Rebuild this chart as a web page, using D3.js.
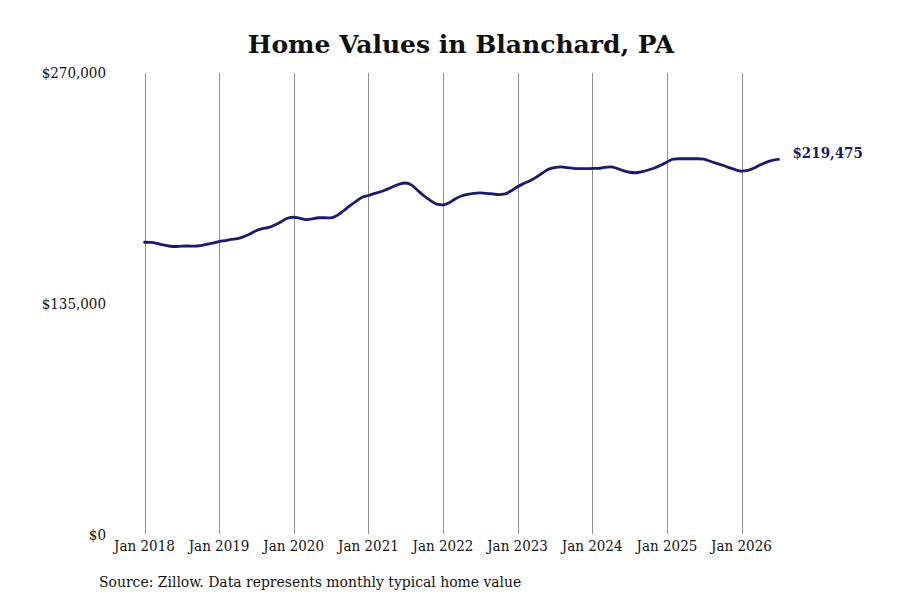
<!DOCTYPE html>
<html>
<head>
<meta charset="utf-8">
<script src="https://cdn.jsdelivr.net/npm/d3@7"></script>
<style>
  html, body { margin: 0; padding: 0; background: #fff; }
  svg text { font-family: "DejaVu Serif Condensed", "DejaVu Serif", serif; font-stretch: condensed; }
</style>
</head>
<body>
<svg id="chart" width="900" height="600"></svg>
<script>
// ---- data ----
const startMonth = "2018-01";
const values = [
  171100, 171000, 170500, 169500, 168900, 168600, 168800, 168900, 168800, 169100, 169900, 170600,
  171500, 172100, 172700, 173200, 174300, 175900, 177800, 179000, 179800, 181200, 183100, 185100,
  185700, 185100, 184300, 184800, 185400, 185400, 185300, 186800, 189500, 192300, 195000, 197400,
  198400, 199700, 200600, 202000, 203500, 205100, 205700, 204500, 201200, 198100, 195400, 193300,
  192900, 194200, 196400, 198100, 199100, 199700, 199900, 199700, 199300, 198900, 199300, 201200,
  203500, 205500, 206900, 209000, 211400, 213700, 214700, 215100, 214700, 214300, 214100, 214100,
  214200, 214300, 214900, 215100, 214300, 212900, 212000, 211700, 212300, 213300, 214500, 216100,
  218000, 219600, 219900, 219900, 219900, 219900, 219600, 218400, 217200, 216100, 214700, 213500,
  212700, 213100, 214300, 216200, 217800, 219000, 219475
];
const xTickLabels = ["Jan 2018","Jan 2019","Jan 2020","Jan 2021","Jan 2022","Jan 2023","Jan 2024","Jan 2025","Jan 2026"];
const yTicks = [0, 135000, 270000];
const titleText = "Home Values in Blanchard, PA";
const sourceText = "Source: Zillow. Data represents monthly typical home value";

// ---- build ----
const parse = d3.timeParse("%Y-%m");
const start = parse(startMonth);
const data = values.map((v, i) => ({ date: d3.timeMonth.offset(start, i), value: v }));
const tickDates = xTickLabels.map(s => d3.timeParse("%b %Y")(s));

const svg = d3.select("#chart");
const x = d3.scaleTime().domain([tickDates[0], tickDates[tickDates.length - 1]]).range([144.5, 741.5]);
const y = d3.scaleLinear().domain([0, 270000]).range([535, 73]);

const lineColor = "#1b1b6e";

// title
svg.append("text")
  .attr("x", 461).attr("y", 52.5)
  .attr("text-anchor", "middle")
  .style("font-family", "'DejaVu Serif', serif")
  .style("font-stretch", "normal")
  .style("font-weight", "bold")
  .style("font-size", "25px")
  .attr("fill", "#111")
  .text(titleText);

// vertical gridlines
svg.append("g").selectAll("line").data(tickDates).join("line")
  .attr("x1", d => Math.round(x(d)) + 0.5).attr("x2", d => Math.round(x(d)) + 0.5)
  .attr("y1", 73).attr("y2", 534)
  .attr("stroke", "#8f8f8f").attr("stroke-width", 1);

// x labels
svg.append("g").selectAll("text").data(tickDates).join("text")
  .attr("x", d => x(d)).attr("y", 551)
  .attr("text-anchor", "middle")
  .style("font-size", "15px")
  .attr("fill", "#111")
  .text((d, i) => xTickLabels[i]);

// y labels
const fmt = v => "$" + d3.format(",")(v);
svg.append("g").selectAll("text").data(yTicks).join("text")
  .attr("x", 106).attr("y", d => y(d))
  .attr("dy", "0.35em")
  .attr("text-anchor", "end")
  .style("font-size", "15px")
  .attr("fill", "#111")
  .text(fmt);

// line
const line = d3.line().x(d => x(d.date)).y(d => y(d.value)).curve(d3.curveMonotoneX);
svg.append("path").datum(data)
  .attr("d", line)
  .attr("fill", "none")
  .attr("stroke", lineColor)
  .attr("stroke-width", 2.8)
  .attr("stroke-linejoin", "round")
  .attr("stroke-linecap", "round");

// end label
const last = data[data.length - 1];
svg.append("text")
  .attr("x", x(last.date) + 14).attr("y", y(last.value) - 7)
  .attr("dy", "0.35em")
  .style("font-size", "15px")
  .style("font-weight", "bold")
  .attr("fill", lineColor)
  .text(fmt(last.value));

// source
svg.append("text")
  .attr("x", 99).attr("y", 587)
  .style("font-size", "15.5px")
  .attr("fill", "#111")
  .text(sourceText);
</script>
</body>
</html>
